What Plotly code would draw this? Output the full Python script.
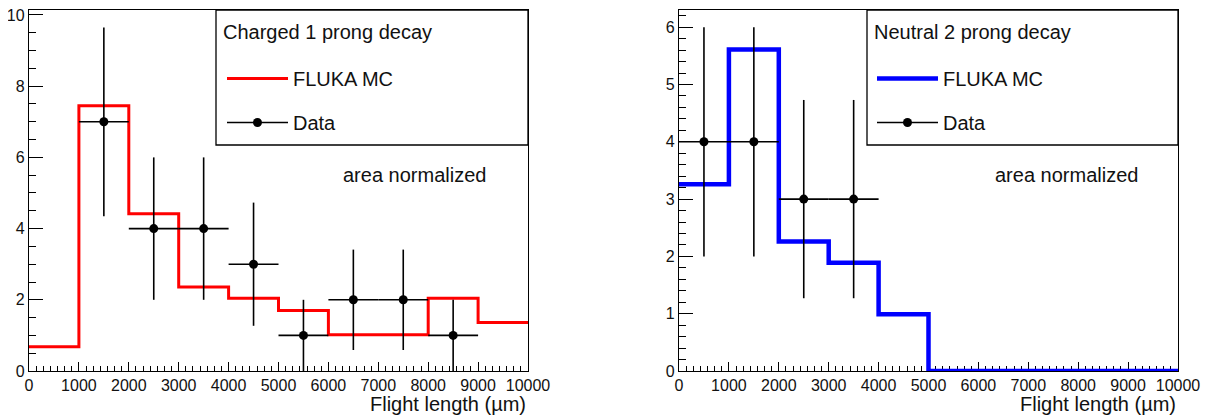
import plotly.graph_objects as go

# ---------------- data ----------------
bin_edges = [0, 1000, 2000, 3000, 4000, 5000, 6000, 7000, 8000, 9000, 10000]

charged_mc = [0.68, 7.45, 4.42, 2.36, 2.04, 1.70, 1.02, 1.02, 2.04, 1.36]
charged_x = [1500, 2500, 3500, 4500, 5500, 6500, 7500, 8500]
charged_y = [7, 4, 4, 3, 1, 2, 2, 1]
charged_err = [2.65, 2.0, 2.0, 1.73, 1.0, 1.41, 1.41, 1.0]

neutral_mc = [3.26, 5.61, 2.26, 1.89, 0.99, 0.0, 0.0, 0.0, 0.0, 0.0]
neutral_x = [500, 1500, 2500, 3500]
neutral_y = [4, 4, 3, 3]
neutral_err = [2.0, 2.0, 1.73, 1.73]

bin_half_width = 500

x_tick_vals = [0, 1000, 2000, 3000, 4000, 5000, 6000, 7000, 8000, 9000, 10000]
x_tick_text = [str(v) for v in x_tick_vals]

titles = ["Charged 1 prong decay", "Neutral 2 prong decay"]
mc_label = "FLUKA MC"
data_label = "Data"
note = "area normalized"
x_title = "Flight length (µm)"

# ---------------- layout geometry ----------------
W, H = 1210, 417
OFF = 8  # default page body margin
FONT = "Liberation Sans, Arial, Helvetica, sans-serif"
TXT = "#111111"


def px_x(p):
    return (p - OFF) / W


def px_y(p):
    return 1 - (p - OFF) / H


fig = go.Figure()

panels = [
    dict(mc=charged_mc, x=charged_x, y=charged_y, e=charged_err, color="#ff0000",
         width=3, xa="x", ya="y", legend="legend", grp="a"),
    dict(mc=neutral_mc, x=neutral_x, y=neutral_y, e=neutral_err, color="#0000ff",
         width=4.5, xa="x2", ya="y2", legend="legend2", grp="b"),
]

for p in panels:
    fig.add_trace(go.Scatter(
        x=bin_edges, y=p["mc"] + [p["mc"][-1]], mode="lines", line_shape="hv",
        line=dict(color=p["color"], width=p["width"]),
        xaxis=p["xa"], yaxis=p["ya"], name=mc_label, legend=p["legend"],
        legendgroup=p["grp"] + "1", showlegend=True, hoverinfo="skip"))
    fig.add_trace(go.Scatter(
        x=p["x"], y=p["y"], mode="markers",
        marker=dict(color="black", size=9),
        error_y=dict(type="data", array=p["e"], color="black", thickness=1.6, width=0),
        error_x=dict(type="constant", value=bin_half_width, color="black", thickness=1.6, width=0),
        xaxis=p["xa"], yaxis=p["ya"], showlegend=False, hoverinfo="skip"))
    # legend-only entry drawn as line + marker
    fig.add_trace(go.Scatter(
        x=[None], y=[None], mode="lines+markers",
        line=dict(color="black", width=1.6), marker=dict(color="black", size=9),
        xaxis=p["xa"], yaxis=p["ya"], name=data_label, legend=p["legend"],
        legendgroup=p["grp"] + "2", showlegend=True))

plot_top, plot_bot = 10, 371
dom_y = [px_y(plot_bot), px_y(plot_top)]

common_x = dict(
    range=[0, 10000], showline=True, linecolor="black", linewidth=1.3, mirror=True,
    ticks="inside", ticklen=9, tickwidth=1.3, tickcolor="black", automargin=False,
    ticklabeloverflow="allow",
    tickvals=x_tick_vals, ticktext=x_tick_text, showgrid=False, zeroline=False,
    tickfont=dict(family=FONT, size=16, color=TXT),
    minor=dict(dtick=1000 / 7, tick0=0, ticks="inside", ticklen=4.5, tickwidth=1.1,
               tickcolor="black", showgrid=False),
)
common_y = dict(
    showline=True, linecolor="black", linewidth=1.3, mirror=True, automargin=False,
    ticklabeloverflow="allow",
    ticks="inside", ticklen=14, tickwidth=1.3, tickcolor="black",
    showgrid=False, zeroline=False,
    tickfont=dict(family=FONT, size=16, color=TXT),
)

fig.update_layout(
    width=W, height=H, margin=dict(l=0, r=0, t=0, b=0, autoexpand=False),
    paper_bgcolor="white", plot_bgcolor="white",
    font=dict(family=FONT, color=TXT),
    xaxis=dict(domain=[px_x(29), px_x(528)], anchor="y", **common_x),
    yaxis=dict(domain=dom_y, anchor="x", range=[0, 10.14], dtick=2,
               minor=dict(dtick=0.5, ticks="inside", ticklen=7, tickwidth=1.1,
                          tickcolor="black", showgrid=False), **common_y),
    xaxis2=dict(domain=[px_x(679), px_x(1178)], anchor="y2", layer="below traces", **common_x),
    yaxis2=dict(domain=dom_y, anchor="x2", range=[0, 6.3], dtick=1,
                minor=dict(dtick=0.2, ticks="inside", ticklen=7, tickwidth=1.1,
                           tickcolor="black", showgrid=False), **common_y),
    showlegend=True,
)

legend_common = dict(
    xanchor="left", yanchor="top", bgcolor="rgba(0,0,0,0)", borderwidth=0,
    font=dict(family=FONT, size=20, color=TXT), traceorder="grouped",
    tracegroupgap=15, itemwidth=61,
)
fig.update_layout(
    legend=dict(x=px_x(222), y=px_y(59), **legend_common),
    legend2=dict(x=px_x(872), y=px_y(59), **legend_common),
)

# legend frames and titles
for x0, x1, t in [(216, 528, titles[0]), (867, 1178, titles[1])]:
    fig.add_shape(type="rect", xref="paper", yref="paper",
                  x0=px_x(x0), x1=px_x(x1), y0=px_y(145), y1=px_y(10),
                  line=dict(color="black", width=1.3), fillcolor="rgba(0,0,0,0)")
    fig.add_annotation(text=t, x=px_x(x0 + 5), y=px_y(32), xref="paper", yref="paper",
                       showarrow=False, xanchor="left", yanchor="middle",
                       font=dict(family=FONT, size=20, color=TXT))

for cx in [414.5, 1066]:
    fig.add_annotation(text=note, x=px_x(cx), y=px_y(175), xref="paper", yref="paper",
                       showarrow=False, xanchor="center", yanchor="middle",
                       font=dict(family=FONT, size=20, color=TXT))

for rx in [528, 1178]:
    fig.add_annotation(text=x_title, x=px_x(rx), y=px_y(404), xref="paper", yref="paper",
                       showarrow=False, xanchor="right", yanchor="middle",
                       font=dict(family=FONT, size=20, color=TXT))

fig.write_html("out.html")
